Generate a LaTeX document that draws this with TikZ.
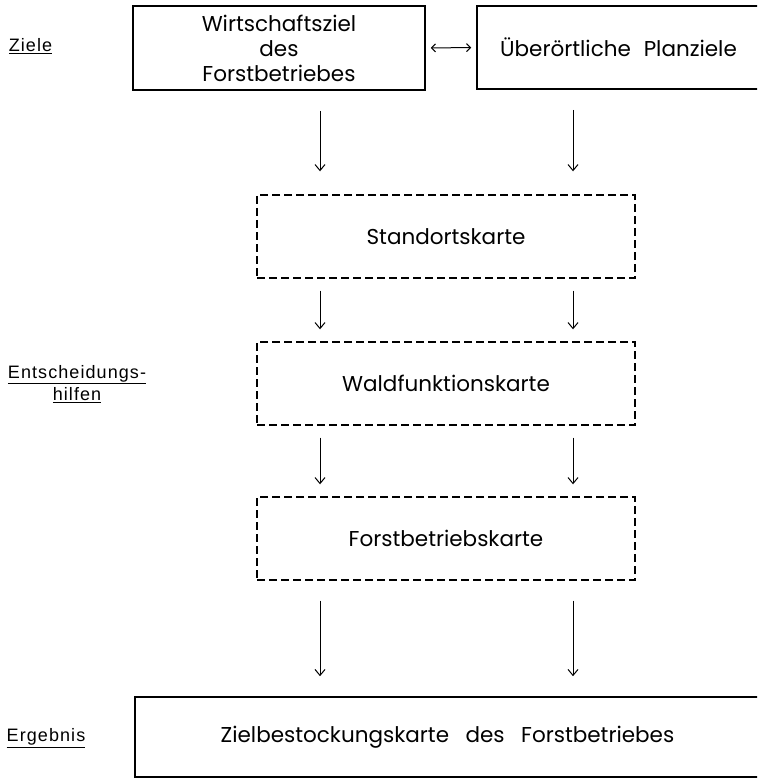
\documentclass[tikz,border=0pt]{standalone}
\usepackage{fontspec}
\setmainfont{Poppins}
\newfontfamily\seitenfont[LetterSpace=6]{Liberation Sans}
\usetikzlibrary{arrows.meta}
\tikzset{kasten/.style={draw, line width=1.6pt, align=center, inner sep=0pt,
    font=\fontsize{21.5}{25}\selectfont}}
\tikzset{strichkasten/.style={kasten, line width=1.4pt, dash pattern=on 8pt off 4pt,
    minimum width=378, minimum height=83}}
\tikzset{pfeil/.style={line width=1pt, -{Straight Barb[length=6pt,width=10pt]}}}
\tikzset{seite/.style={align=center, font=\seitenfont\fontsize{18}{22}\selectfont}}

\begin{document}
\begin{tikzpicture}[x=1pt,y=-1pt]
  \useasboundingbox (0,0) rectangle (757,778);
  \clip (0,0) rectangle (757,778);
  \node[kasten, minimum width=292, minimum height=84] (wz) at (279,48)
    {Wirtschaftsziel\\des\\Forstbetriebes};
  \node[kasten, minimum width=283, minimum height=83] (up) at (618.5,47.5)
    {Überörtliche\hspace{0.6em}Planziele};
  \foreach \x/\y/\lab/\txt in {
    446/236.5/stand/Standortskarte,
    446/383.5/wald/Waldfunktionskarte,
    446/538.5/forst/Forstbetriebskarte%
  } {
    \node[strichkasten] (\lab) at (\x, \y) {\txt};
  }
  \node[kasten, minimum width=625, minimum height=80] (zbk) at (447.5,737)
    {Zielbestockungskarte\hspace{0.5em} des\hspace{0.5em} Forstbetriebes};
  \node[seite] (zl) at (30.5,46) {\underline{Ziele}};
  \node[seite] (eh) at (77,384) {\underline{Entscheidungs-}\\\underline{hilfen}};
  \node[seite] (eg) at (46,738) {\underline{Ergebnis}};
  \coordinate (li) at (320,0);
  \coordinate (re) at (573,0);
  \draw[line width=1pt, {Straight Barb[length=4pt,width=8pt]}-{Straight Barb[length=4pt,width=8pt]},
    shorten <=5pt, shorten >=5pt] (wz.east) -- (up.west);
  \draw[pfeil, shorten <=20pt, shorten >=23pt] (wz.south -| li) -- (stand.north -| li);
  \draw[pfeil, shorten <=20pt, shorten >=23pt] (up.south -| re) -- (stand.north -| re);
  \foreach \von/\nach/\ab in {stand/wald/12, wald/forst/12, forst/zbk/20} {
    \foreach \s in {li,re} {
      \draw[pfeil, shorten <=\ab pt, shorten >=\ab pt] (\von.south -| \s) -- (\nach.north -| \s);
    }
  }
\end{tikzpicture}
\end{document}
